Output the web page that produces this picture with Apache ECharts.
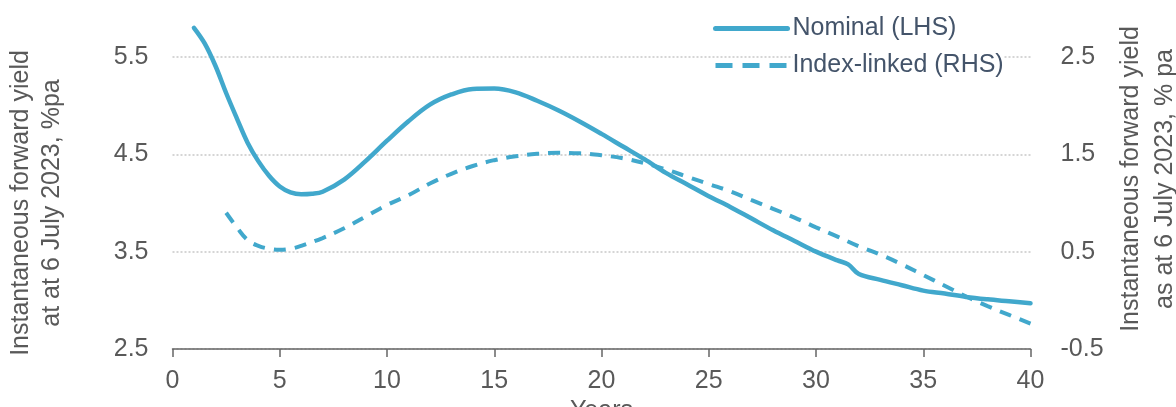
<!DOCTYPE html>
<html>
<head>
<meta charset="utf-8">
<script src="https://cdn.jsdelivr.net/npm/echarts@6/dist/echarts.min.js"></script>
<style>
  html, body { margin: 0; padding: 0; background: #ffffff; }
  #chart { width: 1176px; height: 407px; }
</style>
</head>
<body>
<div id="chart"></div>
<script>
// ---- Data ----
const nominalYears  = [1, 1.5, 2, 2.5, 3, 3.5, 4, 4.5, 5, 5.5, 6, 6.5, 7, 8, 9, 10, 11, 12, 13, 14, 15, 16, 17, 18, 19, 20, 21, 22, 23, 24, 25, 26, 27, 28, 29, 30, 31, 31.5, 32, 33, 34, 35, 36, 37, 38, 39, 40];
const nominalValues = [5.80, 5.64, 5.41, 5.13, 4.87, 4.62, 4.43, 4.28, 4.17, 4.11, 4.09, 4.095, 4.115, 4.24, 4.43, 4.64, 4.84, 5.01, 5.115, 5.172, 5.176, 5.137, 5.05, 4.95, 4.835, 4.71, 4.58, 4.45, 4.31, 4.19, 4.07, 3.96, 3.84, 3.72, 3.61, 3.50, 3.41, 3.37, 3.27, 3.21, 3.155, 3.10, 3.07, 3.035, 3.01, 2.99, 2.97];

const indexYears  = [2.5, 3, 3.5, 4, 4.5, 5, 5.5, 6, 7, 8, 9, 10, 11, 12, 13, 14, 15, 16, 17, 18, 19, 20, 21, 22, 23, 24, 25, 26, 27, 28, 29, 30, 31, 32, 33, 34, 35, 36, 37, 38, 39, 40];
const indexValues = [0.90, 0.75, 0.62, 0.56, 0.53, 0.52, 0.53, 0.56, 0.64, 0.74, 0.86, 0.98, 1.08, 1.20, 1.30, 1.38, 1.44, 1.48, 1.505, 1.515, 1.51, 1.49, 1.46, 1.41, 1.345, 1.27, 1.195, 1.12, 1.03, 0.94, 0.85, 0.75, 0.655, 0.555, 0.47, 0.37, 0.26, 0.15, 0.04, -0.06, -0.15, -0.24];

const seriesNames = ['Nominal (LHS)', 'Index-linked (RHS)'];
const xAxisName = 'Years';
const leftAxisName = 'Instantaneous forward yield\nat at 6 July 2023, %pa';
const rightAxisName = 'Instantaneous forward yield\nas at 6 July 2023, % pa';

// ---- Chart ----
const FONT = "'Liberation Sans', Arial, sans-serif";
const LINE_COLOR = '#41a8cc';
const TEXT_COLOR = '#595959';

const pairs = (xs, ys) => xs.map((x, i) => [x, ys[i]]);

const chart = echarts.init(document.getElementById('chart'), null, { renderer: 'canvas' });
chart.setOption({
  animation: false,
  backgroundColor: '#ffffff',
  textStyle: { fontFamily: FONT },
  grid: { left: 172.5, right: 145.5, top: 57, bottom: 58, containLabel: false, outerBoundsMode: 'none' },
  legend: {
    orient: 'vertical',
    left: 708,
    top: 11,
    itemWidth: 72,
    itemHeight: 14,
    itemGap: 12,
    itemStyle: { opacity: 0 },
    lineStyle: { width: 5 },
    textStyle: { fontFamily: FONT, fontSize: 25, color: '#44546a', backgroundColor: '#ffffff' },
    data: [
      { name: seriesNames[0], lineStyle: { width: 5, type: 'solid' } },
      { name: seriesNames[1], lineStyle: { width: 5, type: [17, 10] } }
    ]
  },
  xAxis: {
    type: 'value',
    min: 0, max: 40, interval: 5,
    name: xAxisName,
    nameLocation: 'middle',
    nameGap: 44,
    nameTextStyle: { fontFamily: FONT, fontSize: 25, color: TEXT_COLOR },
    axisLine: { show: true, onZero: false, lineStyle: { color: '#666666', width: 1.5 } },
    axisTick: { show: true, length: 8, lineStyle: { color: '#666666', width: 1.5 } },
    axisLabel: { fontFamily: FONT, fontSize: 25, color: TEXT_COLOR, margin: 20 },
    splitLine: { show: false }
  },
  yAxis: [
    {
      type: 'value',
      position: 'left',
      min: 2.5, max: 5.5, interval: 1,
      name: leftAxisName,
      nameLocation: 'middle',
      nameRotate: 90,
      nameGap: 105,
      nameTextStyle: { fontFamily: FONT, fontSize: 25, color: TEXT_COLOR, lineHeight: 31, align: 'center' },
      axisLine: { show: false },
      axisTick: { show: false },
      axisLabel: { fontFamily: FONT, fontSize: 25, color: TEXT_COLOR, margin: 24, formatter: v => v.toFixed(1) },
      splitLine: { show: true, lineStyle: { color: '#c8c8c8', width: 1.5, type: [2, 2] } }
    },
    {
      type: 'value',
      position: 'right',
      min: -0.5, max: 2.5, interval: 1,
      name: rightAxisName,
      nameLocation: 'middle',
      nameRotate: 90,
      nameGap: 81,
      nameTextStyle: { fontFamily: FONT, fontSize: 25, color: TEXT_COLOR, lineHeight: 34, align: 'center', padding: [0, 0, 0, 48] },
      axisLine: { show: false },
      axisTick: { show: false },
      axisLabel: { fontFamily: FONT, fontSize: 25, color: TEXT_COLOR, margin: 30, formatter: v => v.toFixed(1) },
      splitLine: { show: false }
    }
  ],
  series: [
    {
      name: seriesNames[0],
      type: 'line',
      yAxisIndex: 0,
      data: pairs(nominalYears, nominalValues),
      showSymbol: false,
      symbol: 'none',
      smooth: 0.35,
      clip: false,
      lineStyle: { color: LINE_COLOR, width: 4.5, cap: 'round', join: 'round' },
      itemStyle: { color: LINE_COLOR },
      z: 3
    },
    {
      name: seriesNames[1],
      type: 'line',
      yAxisIndex: 1,
      data: pairs(indexYears, indexValues),
      showSymbol: false,
      symbol: 'none',
      smooth: 0.4,
      clip: false,
      lineStyle: { color: LINE_COLOR, width: 4, type: [12, 9], cap: 'butt' },
      itemStyle: { color: LINE_COLOR },
      z: 2
    }
  ]
});
</script>
</body>
</html>
